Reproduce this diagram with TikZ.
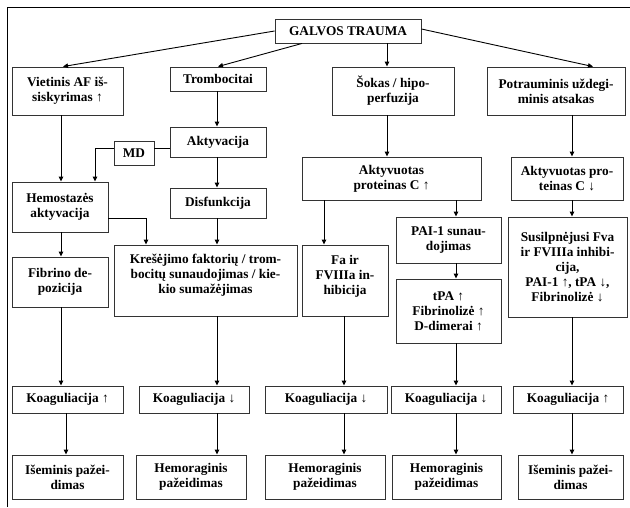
\documentclass[tikz,border=0pt]{standalone}
\usepackage{fontspec}
\setmainfont{Liberation Serif}
\usetikzlibrary{arrows.meta}
\tikzstyle{box}=[draw=black!80, align=center, inner sep=0pt, font=\bfseries\fontsize{13.3}{15}\selectfont]
\tikzstyle{arr}=[-{Triangle[length=5pt,width=4.5pt]}]

\begin{document}
\begin{tikzpicture}[x=1pt, y=-1pt, line width=0.9pt]
    \useasboundingbox (0,0) rectangle (630,507);
% Frame
    \draw (7,507) -- (7,7) -- (630,7);
% Columns of the arrows
    \coordinate (colA) at (61,0);
    \coordinate (colAh) at (66,0);
    \coordinate (colAt) at (63,0);
    \coordinate (colB) at (217,0);
    \coordinate (colMD) at (95,0);
    \coordinate (colK) at (146,0);
    \coordinate (colC) at (324,0);
    \coordinate (colF) at (344,0);
    \coordinate (colS) at (387,0);
    \coordinate (colD) at (456,0);
    \coordinate (colE) at (572,0);
    \coordinate (rowMD) at (0,148);
    \coordinate (rowK) at (0,218);
% Top boxes
    \node[box, minimum width=146pt, minimum height=24pt] (trauma) at (348,31) {GALVOS TRAUMA};
    \node[box, minimum width=111pt, minimum height=48pt] (vaf) at (67.5,91) {Vietinis AF iš-\\siskyrimas ↑};
    \node[box, minimum width=96pt, minimum height=24pt] (tromb) at (218,79) {Trombocitai};
    \node[box, minimum width=122pt, minimum height=48pt] (sokas) at (393,91) {Šokas / hipo-\\perfuzija};
    \node[box, minimum width=138pt, minimum height=48pt] (potr) at (556,91) {Potrauminis uždegi-\\minis atsakas};
% Middle boxes
    \node[box, minimum width=96pt, minimum height=30pt] (akt) at (218,142) {Aktyvacija};
    \node[box, minimum width=40pt, minimum height=24pt] (md) at (134,153) {MD};
    \node[box, minimum width=96pt, minimum height=50pt] (hemo) at (60,207) {Hemostazės\\aktyvacija};
    \node[box, minimum width=96pt, minimum height=30pt] (disf) at (218,203) {Disfunkcija};
    \node[box, minimum width=183pt, minimum height=71pt, text depth=14pt] (kres) at (205.5,280.5) {Krešėjimo faktorių / trom-\\bocitų sunaudojimas / kie-\\kio sumažėjimas};
    \node[box, minimum width=96pt, minimum height=50pt] (fibr) at (60,282) {Fibrino de-\\pozicija};
    \node[box, minimum width=179pt, minimum height=43pt] (apcu) at (391.5,178.5) {Aktyvuotas\\proteinas C ↑};
    \node[box, minimum width=86pt, minimum height=71pt, text depth=12pt] (fa) at (345,280.5) {Fa ir\\FVIIIa in-\\hibicija};
    \node[box, minimum width=105pt, minimum height=46pt] (pai) at (448.5,240) {PAI-1 sunau-\\dojimas};
    \node[box, minimum width=105pt, minimum height=64pt] (tpa) at (448.5,311) {tPA ↑\\Fibrinolizė ↑\\D-dimerai ↑};
    \node[box, minimum width=112pt, minimum height=43pt] (apcd) at (567,178.5) {Aktyvuotas pro-\\teinas C ↓};
    \node[box, minimum width=119pt, minimum height=100pt] (susi) at (567.5,267) {Susilpnėjusi Fva\\ir FVIIIa inhibi-\\cija,\\PAI-1 ↑, tPA ↓,\\Fibrinolizė ↓};
% Coagulation
    \node[box, minimum width=111pt, minimum height=27pt] (koag1) at (67.5,399.5) {Koaguliacija ↑};
    \node[box, minimum width=110pt, minimum height=27pt] (koag2) at (194,399.5) {Koaguliacija ↓};
    \node[box, minimum width=122pt, minimum height=27pt] (koag3) at (326,399.5) {Koaguliacija ↓};
    \node[box, minimum width=110pt, minimum height=27pt] (koag4) at (446,399.5) {Koaguliacija ↓};
    \node[box, minimum width=110pt, minimum height=27pt] (koag5) at (568,399.5) {Koaguliacija ↑};
% Damage
    \node[box, minimum width=111pt, minimum height=44pt] (paz1) at (67.5,477) {Išeminis pažei-\\dimas};
    \node[box, minimum width=110pt, minimum height=44pt] (paz2) at (191,477) {Hemoraginis\\pažeidimas};
    \node[box, minimum width=120pt, minimum height=44pt] (paz3) at (325,477) {Hemoraginis\\pažeidimas};
    \node[box, minimum width=109pt, minimum height=44pt] (paz4) at (446.5,477) {Hemoraginis\\pažeidimas};
    \node[box, minimum width=105pt, minimum height=44pt] (paz5) at (570.5,477) {Išeminis pažei-\\dimas};
% Arrows
    \draw[arr] (trauma.west) -- (vaf.north -| colAt);
    \draw[arr] ([xshift=-46pt]trauma.south) -- (tromb.north);
    \draw[arr] (trauma.south -| colS) -- (sokas.north -| colS);
    \draw[arr] ([yshift=2pt]trauma.east) -- ([xshift=37pt]potr.north);
    \draw[arr] (vaf.south -| colA) -- (hemo.north -| colA);
    \draw[arr] (hemo.south -| colA) -- (fibr.north -| colA);
    \draw[arr] (fibr.south -| colA) -- (koag1.north -| colA);
    \draw[arr] (koag1.south -| colAh) -- (paz1.north -| colAh);
    \draw[arr] (tromb.south -| colB) -- (akt.north -| colB);
    \draw[arr] (akt.south -| colB) -- (disf.north -| colB);
    \draw[arr] (disf.south -| colB) -- (kres.north -| colB);
    \draw[arr] (kres.south -| colB) -- (koag2.north -| colB);
    \draw[arr] (koag2.south -| colB) -- (paz2.north -| colB);
    \draw (akt.west |- rowMD) -- (md.east |- rowMD);
    \draw[arr] (md.west |- rowMD) -- (colMD |- rowMD) -- (hemo.north -| colMD);
    \draw[arr] (hemo.east |- rowK) -- (colK |- rowK) -- (kres.north -| colK);
    \draw[arr] (sokas.south -| colS) -- (apcu.north -| colS);
    \draw[arr] (apcu.south -| colC) -- (fa.north -| colC);
    \draw[arr] (fa.south -| colF) -- (koag3.north -| colF);
    \draw[arr] (koag3.south -| colF) -- (paz3.north -| colF);
    \draw[arr] (apcu.south -| colD) -- (pai.north -| colD);
    \draw[arr] (pai.south -| colD) -- (tpa.north -| colD);
    \draw[arr] (tpa.south -| colD) -- (koag4.north -| colD);
    \draw[arr] (koag4.south -| colD) -- (paz4.north -| colD);
    \draw[arr] (potr.south -| colE) -- (apcd.north -| colE);
    \draw[arr] (apcd.south -| colE) -- (susi.north -| colE);
    \draw[arr] (susi.south -| colE) -- (koag5.north -| colE);
    \draw[arr] (koag5.south -| colE) -- (paz5.north -| colE);
\end{tikzpicture}
\end{document}
